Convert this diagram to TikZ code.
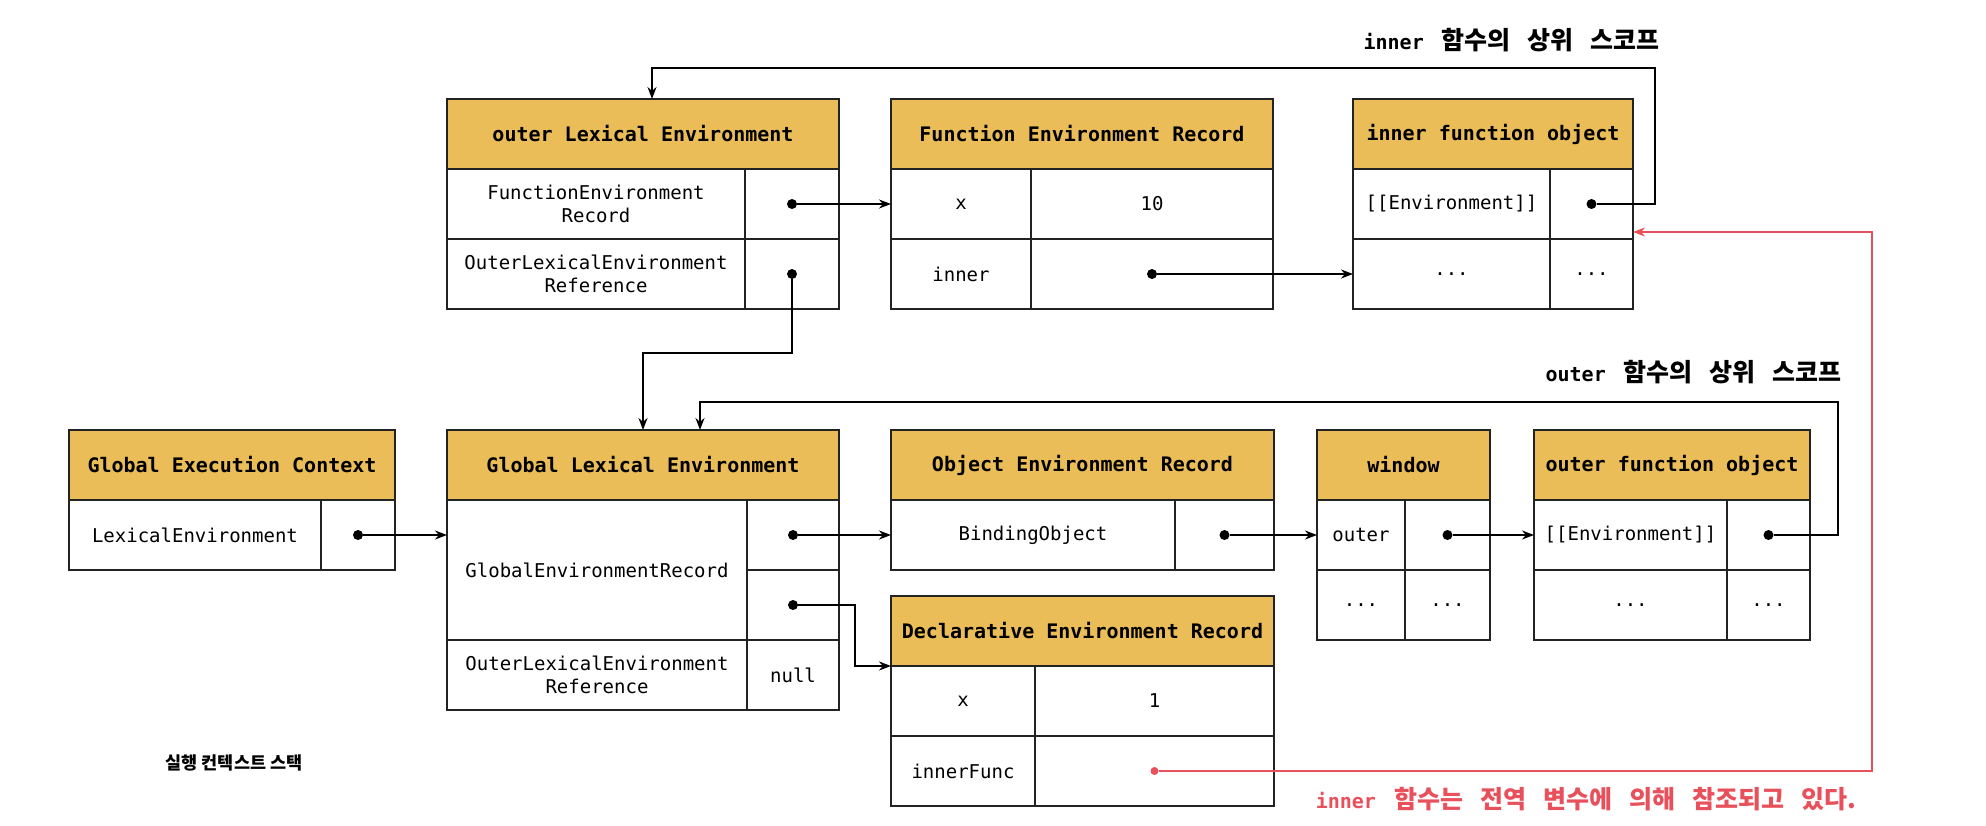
\documentclass[tikz,border=0pt]{standalone}
\usepackage{fontspec}
\setmonofont{DejaVu Sans Mono}
\newfontfamily\krfont{Noto Sans CJK KR}
\usetikzlibrary{positioning,arrows.meta}

\definecolor{envgold}{RGB}{234,189,88}
\definecolor{refred}{RGB}{232,80,92}
\definecolor{boxline}{RGB}{35,35,35}

\newcommand\ko[1]{{\krfont\fontsize{25}{28}\selectfont #1}}
\newcommand\kgap{\hspace{17pt}}
\newcommand\wgap{\hspace{18pt}}

\tikzset{
  hdr/.style={draw=boxline, line width=1.6pt, fill=envgold, outer sep=0pt, inner sep=0pt,
    minimum height=70pt, font=\fontsize{20}{24}\selectfont\ttfamily\bfseries},
  cell/.style={draw=boxline, line width=1.4pt, outer sep=0pt, inner sep=0pt,
    minimum height=70pt, align=center, font=\fontsize{19}{23}\selectfont\ttfamily},
  dotn/.style={circle, fill=black, inner sep=0pt, minimum size=10pt},
  link/.style={line width=2pt, -{Stealth[length=12pt,width=9pt]}},
  reflink/.style={refred, line width=1.6pt, -{Stealth[length=12pt,width=9pt]}},
  scopelabel/.style={font=\fontsize{20}{24}\selectfont\ttfamily\bfseries, inner sep=0pt},
}

\begin{document}
\begin{tikzpicture}[x=1pt, y=-1pt]
  \useasboundingbox (0,0) rectangle (1986,826);

  % outer lexical environment
  \node[hdr, minimum width=392pt, anchor=north west] (oleH) at (447,99) {outer Lexical Environment};
  \node[cell, minimum width=298pt, below right=0pt and 0pt of oleH.south west] (oleK1) {FunctionEnvironment\\Record};
  \node[cell, minimum width=94pt, right=0pt of oleK1] (oleV1) {};
  \node[cell, minimum width=298pt, below=0pt of oleK1] (oleK2) {OuterLexicalEnvironment\\Reference};
  \node[cell, minimum width=94pt, right=0pt of oleK2] (oleV2) {};

  % function environment record
  \node[hdr, minimum width=382pt, right=52pt of oleH] (ferH) {Function Environment Record};
  \node[cell, minimum width=140pt, below right=0pt and 0pt of ferH.south west] (ferK1) {x};
  \node[cell, minimum width=242pt, right=0pt of ferK1] (ferV1) {10};
  \node[cell, minimum width=140pt, below=0pt of ferK1] (ferK2) {inner};
  \node[cell, minimum width=242pt, right=0pt of ferK2] (ferV2) {};

  % inner function object
  \node[hdr, minimum width=280pt, right=80pt of ferH] (ifH) {inner function object};
  \node[cell, minimum width=197pt, below right=0pt and 0pt of ifH.south west] (ifK1) {[[Environment]]};
  \node[cell, minimum width=83pt, right=0pt of ifK1] (ifV1) {};
  \node[cell, minimum width=197pt, below=0pt of ifK1] (ifK2) {...};
  \node[cell, minimum width=83pt, right=0pt of ifK2] (ifV2) {...};

  % global execution context
  \node[hdr, minimum width=326pt, anchor=north west] (gecH) at (69,430) {Global Execution Context};
  \node[cell, minimum width=252pt, below right=0pt and 0pt of gecH.south west] (gecK) {LexicalEnvironment};
  \node[cell, minimum width=74pt, right=0pt of gecK] (gecV) {};
  \node[font=\krfont\bfseries\fontsize{17.5}{21}\selectfont] (stackLbl) at (234,763) {실행 컨텍스트 스택};

  % global lexical environment
  \node[hdr, minimum width=392pt, right=52pt of gecH] (gleH) {Global Lexical Environment};
  \node[cell, minimum width=300pt, minimum height=140pt, below right=0pt and 0pt of gleH.south west] (gleRec) {GlobalEnvironmentRecord};
  \node[cell, minimum width=92pt, below right=0pt and 0pt of gleRec.north east] (gleV1) {};
  \node[cell, minimum width=92pt, below=0pt of gleV1] (gleV2) {};
  \node[cell, minimum width=300pt, below=0pt of gleRec] (gleK3) {OuterLexicalEnvironment\\Reference};
  \node[cell, minimum width=92pt, right=0pt of gleK3] (gleV3) {null};

  % object environment record
  \node[hdr, minimum width=383pt, right=52pt of gleH] (oerH) {Object Environment Record};
  \node[cell, minimum width=284pt, below right=0pt and 0pt of oerH.south west] (oerK) {BindingObject};
  \node[cell, minimum width=99pt, right=0pt of oerK] (oerV) {};

  % declarative environment record
  \node[hdr, minimum width=383pt, below right=26pt and 0pt of oerK.south west] (derH) {Declarative Environment Record};
  \node[cell, minimum width=144pt, below right=0pt and 0pt of derH.south west] (derK1) {x};
  \node[cell, minimum width=239pt, right=0pt of derK1] (derV1) {1};
  \node[cell, minimum width=144pt, below=0pt of derK1] (derK2) {innerFunc};
  \node[cell, minimum width=239pt, right=0pt of derK2] (derV2) {};

  % window
  \node[hdr, minimum width=173pt, right=43pt of oerH] (winH) {window};
  \node[cell, minimum width=88pt, below right=0pt and 0pt of winH.south west] (winK1) {outer};
  \node[cell, minimum width=85pt, right=0pt of winK1] (winV1) {};
  \node[cell, minimum width=88pt, below=0pt of winK1] (winK2) {...};
  \node[cell, minimum width=85pt, right=0pt of winK2] (winV2) {...};

  % outer function object
  \node[hdr, minimum width=276pt, right=44pt of winH] (ofH) {outer function object};
  \node[cell, minimum width=193pt, below right=0pt and 0pt of ofH.south west] (ofK1) {[[Environment]]};
  \node[cell, minimum width=83pt, right=0pt of ofK1] (ofV1) {};
  \node[cell, minimum width=193pt, below=0pt of ofK1] (ofK2) {...};
  \node[cell, minimum width=83pt, right=0pt of ofK2] (ofV2) {...};

  % labels
  \node[scopelabel, anchor=east] (innerLbl) at (1660,40) {inner\wgap\ko{함수의}\kgap\ko{상위}\kgap\ko{스코프}};
  \node[scopelabel, anchor=east] (outerLbl) at (1842,372) {outer\wgap\ko{함수의}\kgap\ko{상위}\kgap\ko{스코프}};
  \node[scopelabel, text=refred, anchor=east] (refLbl) at (1856,799) {inner\wgap\ko{함수는}\kgap\ko{전역}\kgap\ko{변수에}\kgap\ko{의해}\kgap\ko{참조되고}\kgap\ko{있다.}};

  % dots
  \node[dotn] (oleD1) at (oleV1) {};
  \node[dotn] (oleD2) at (oleV2) {};
  \node[dotn] (ferD2) at (ferV2) {};
  \node[dotn] (ifD1) at (ifV1) {};
  \node[dotn] (gecD) at (gecV) {};
  \node[dotn] (gleD1) at (gleV1) {};
  \node[dotn] (gleD2) at (gleV2) {};
  \node[dotn] (oerD) at (oerV) {};
  \node[dotn] (winD) at (winV1) {};
  \node[dotn] (ofD1) at (ofV1) {};
  \node[dotn, fill=refred, minimum size=8pt] (derD) at (derV2) {};

  % bends
  \coordinate (innerUp) at (1655,68);
  \coordinate (outerUp) at (1838,402);
  \coordinate (redUp) at (1872,232);

  % references
  \draw[link] (oleD1) -- (ferK1);
  \draw[link] (ferD2) -- (ifK2);
  \draw[link] (oleD2) -- ++(0,79) -| (gleH.north);
  \draw[link] (ifD1) -| (innerUp) -| ([xshift=9pt]oleH.north);
  \draw[link] (gecD) -- (gleRec.west |- gecD);
  \draw[link] (gleD1) -- (oerK);
  \draw[link] (gleD2) -- ++(62,0) |- (derH.south west);
  \draw[link] (oerD) -- (winK1);
  \draw[link] (winD) -- (ofK1);
  \draw[link] (ofD1) -| (outerUp) -| ([xshift=57pt]gleH.north);
  \draw[reflink] (derD) -| (redUp) -- (ifV1.east |- redUp);
\end{tikzpicture}
\end{document}
